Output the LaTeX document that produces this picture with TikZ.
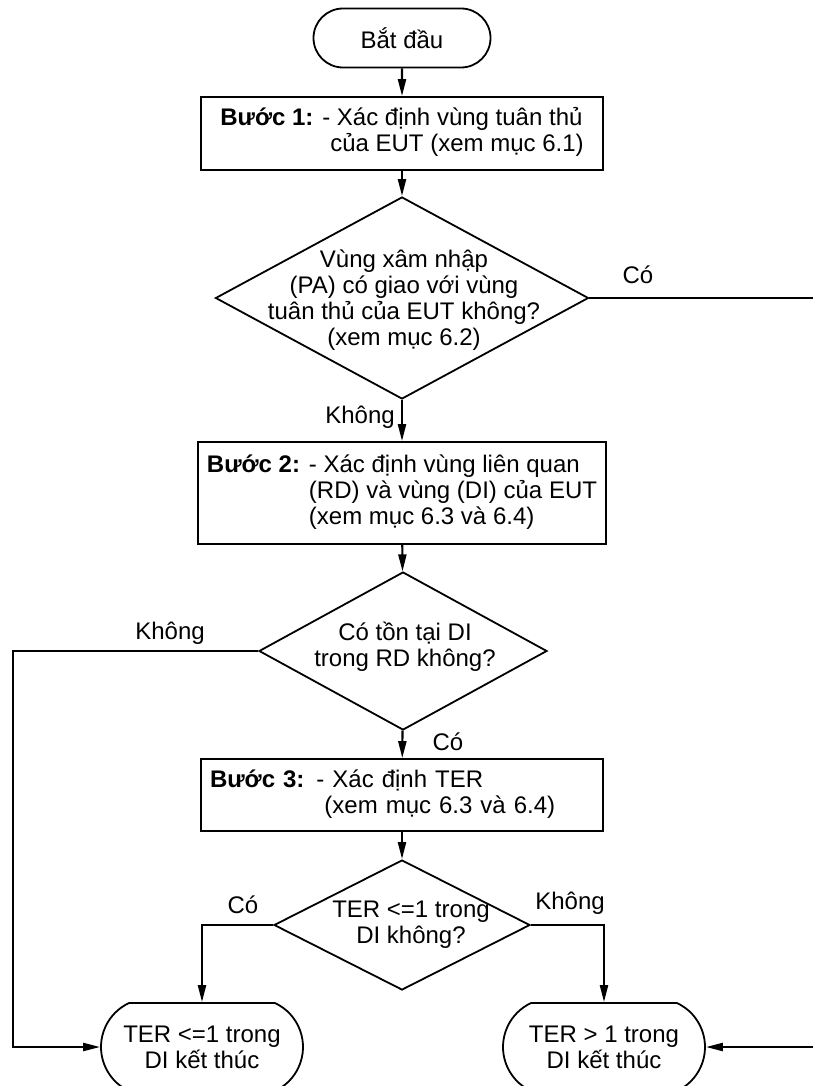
\documentclass[tikz,border=0pt]{standalone}
\usepackage{fontspec}
\setmainfont{Liberation Sans}
\usetikzlibrary{arrows.meta,shapes.geometric,shapes.misc}

\begin{document}
\begin{tikzpicture}[x=0.5pt, y=-0.5pt,
    font=\fontsize{12pt}{13pt}\selectfont,
    terminal/.style={draw, line width=0.9pt, rounded rectangle, rounded rectangle arc length=180, inner sep=0pt, align=center},
    stepbox/.style={draw, line width=0.9pt, minimum width=201pt, inner sep=4.5pt},
    decision/.style={draw, line width=0.9pt, diamond, inner sep=0pt},
    flow/.style={line width=1.1pt, -{Triangle[length=8.5pt,width=4pt]}}]
  \useasboundingbox (0,0) rectangle (813,1086);

  % start and the three steps
  \node[terminal, minimum width=88.5pt, minimum height=29.5pt] (start) at (402,38) {Bắt đầu};
  \node[stepbox, minimum height=36.5pt] (step1) at (402,133.5)
    {\begin{tabular}{@{}l@{ }l@{}}\textbf{Bước 1:} & - Xác định vùng tuân thủ\\ & \phantom{-}của EUT (xem mục 6.1)\end{tabular}};
  \node[stepbox, minimum height=51pt] (step2) at (402,493)
    {\begin{tabular}{@{}l@{ }l@{}}\textbf{Bước 2:} & - Xác định vùng liên quan\\ & (RD) và vùng (DI) của EUT\\ & (xem mục 6.3 và 6.4)\end{tabular}};
  \node[stepbox, minimum height=36pt, text width=192pt, align=left] (step3) at (402,795)
    {\begin{tabular}{@{}l@{ }l@{}}\textbf{Bước 3:} & - Xác định TER\\ & \phantom{-}(xem mục 6.3 và 6.4)\end{tabular}};

  % decisions (shape, then its text)
  \node[decision, minimum width=186.5pt, minimum height=101pt] (dec1) at (402,298) {};
  \node[align=center] (dec1txt) at (404,300) {Vùng xâm nhập\\(PA) có giao với vùng\\tuân thủ của EUT không?\\(xem mục 6.2)};
  \node[decision, minimum width=144pt, minimum height=79pt] (dec2) at (403,651) {};
  \node[align=center] (dec2txt) at (405,647) {Có tồn tại DI\\trong RD không?};
  \node[decision, minimum width=128pt, minimum height=65pt] (dec3) at (402,925) {};
  \node[align=center] (dec3txt) at (411,925) {TER <=1 trong\\DI không?};

  % ends
  \node[terminal, rounded rectangle arc length=130, minimum width=101pt, minimum height=44pt] (endyes) at (202,1047) {TER <=1 trong\\DI kết thúc};
  \node[terminal, rounded rectangle arc length=130, minimum width=101pt, minimum height=44pt] (endno) at (604,1047) {TER > 1 trong\\DI kết thúc};

  \coordinate (lcorner) at (13,651);
  \coordinate (rcorner) at (817,298);

  % connectors
  \draw[flow] (start) -- (step1);
  \draw[flow] (step1) -- (dec1);
  \draw[flow] (dec1) -- (step2);
  \draw[flow] (step2) -- (dec2);
  \draw[flow] (dec2) -- (step3);
  \draw[flow] (step3) -- (dec3);
  \draw[flow] (dec3.west) -| (endyes.north);
  \draw[flow] (dec3.east) -| (endno.north);
  \draw[flow] (dec2.west) -- (lcorner) |- (endyes.west);
  \draw[flow] (dec1.east) -- (rcorner) |- (endno.east);

  % branch labels
  \node (yes1) at (638,275) {Có};
  \node (no1) at (360,417) {Không};
  \node (no2) at (170,633) {Không};
  \node (yes2) at (448,742) {Có};
  \node (yes3) at (243,905) {Có};
  \node (no3) at (570,903) {Không};
\end{tikzpicture}
\end{document}
